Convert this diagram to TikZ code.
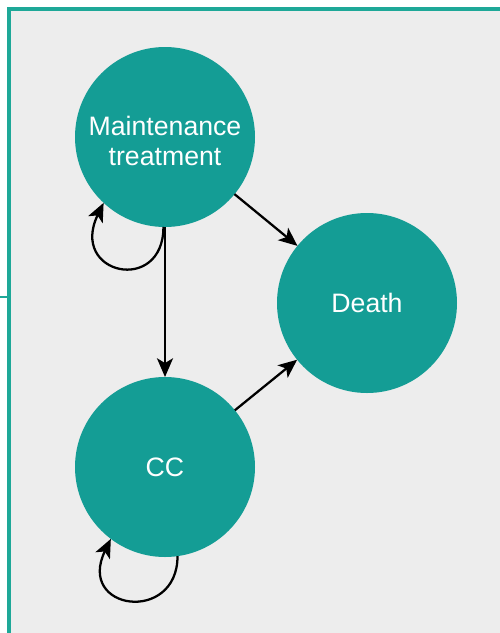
\documentclass[tikz,border=0pt]{standalone}
\usepackage{fontspec}
\setmainfont{Liberation Sans}
\usetikzlibrary{arrows.meta}
\definecolor{stategreen}{RGB}{20,157,149}
\definecolor{frameline}{RGB}{30,168,152}
\definecolor{panelgray}{RGB}{237,237,237}

\begin{document}
\begin{tikzpicture}[x=0.75pt,y=-0.75pt,
		state/.style={circle, fill=stategreen, minimum size=135pt, inner sep=0pt, outer sep=0pt,
			text=white, align=center, font=\fontsize{20}{22.5}\selectfont},
		arr/.style={-{Stealth[length=14pt,width=12pt,inset=3.5pt]}, line width=1.7pt}]
					\useasboundingbox (0,0) rectangle (500,633);

					% Panel behind the states
					\fill[white] (0,0) rectangle (500,633);
					\fill[panelgray] (9,9) rectangle (500,633);
					\draw[frameline, line width=2.8pt] (9,633) -- (9,9) -- (500,9);
					\draw[frameline, line width=2pt] (0,297) -- (9,297);

					\node[state] (mt) at (165,137) {\rule{0pt}{20pt}Maintenance\\treatment};
					\node[state] (death) at (367,303) {Death};
					\node[state] (cc) at (165,467) {CC};

					\draw[arr] (mt) -- (cc);
					\draw[arr] (mt) -- (death);
					\draw[arr] (cc) -- (death);

					% Stay in the same state
					\draw[arr] (mt.-91) .. controls +(0,68) and +(-35,72) .. (mt.-133);
					\draw[arr] (cc.-82) .. controls +(0,68) and +(-35,72) .. (cc.-127);
\end{tikzpicture}
\end{document}
